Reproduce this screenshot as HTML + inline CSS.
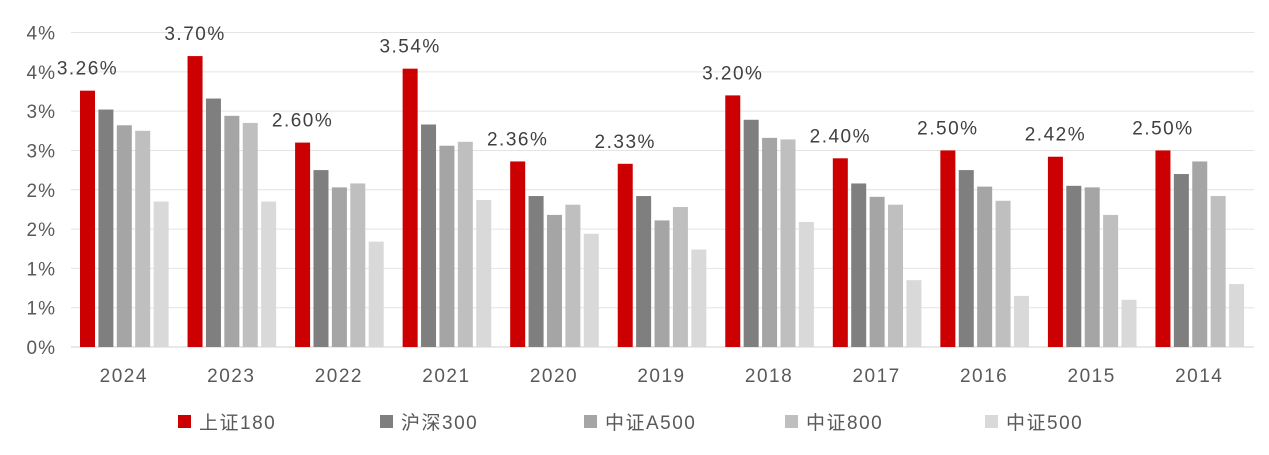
<!DOCTYPE html>
<html><head><meta charset="utf-8">
<style>
html,body{margin:0;padding:0;background:#fff;}
svg{display:block;font-family:"Liberation Sans","Noto Sans CJK SC",sans-serif;}
</style></head>
<body>
<svg id="chart" width="1269" height="455" viewBox="0 0 1269 455" xmlns="http://www.w3.org/2000/svg">
<g id="grid"></g>
<g id="yaxis"></g>
<g id="bars"></g>
<g id="labels"></g>
<g id="xaxis"></g>
<g id="legend"></g>
</svg>
<script>
const categories = ["2024","2023","2022","2021","2020","2019","2018","2017","2016","2015","2014"];
const seriesNames = ["上证180","沪深300","中证A500","中证800","中证500"];
const sz180 = [3.26,3.70,2.60,3.54,2.36,2.33,3.20,2.40,2.50,2.42,2.50];
const hs300 = [3.02,3.16,2.25,2.83,1.92,1.92,2.89,2.08,2.25,2.05,2.20];
const zzA500 = [2.82,2.94,2.03,2.56,1.68,1.61,2.66,1.91,2.04,2.03,2.36];
const zz800 = [2.75,2.85,2.08,2.61,1.81,1.78,2.64,1.81,1.86,1.68,1.92];
const zz500 = [1.85,1.85,1.34,1.87,1.44,1.24,1.59,0.85,0.65,0.60,0.80];
const labelValues = ["3.26%","3.70%","2.60%","3.54%","2.36%","2.33%","3.20%","2.40%","2.50%","2.42%","2.50%"];
const yTicks = [0,0.5,1,1.5,2,2.5,3,3.5,4];
const yTickLabels = ["0%","1%","1%","2%","2%","3%","3%","4%","4%"];

const colors = ["#cc0000","#7f7f7f","#a5a5a5","#bfbfbf","#d9d9d9"];
const series = [sz180,hs300,zzA500,zz800,zz500];
const NS="http://www.w3.org/2000/svg";
const plotL=71, plotR=1254, y0=347, yTop=32.5, yMax=4;
const y = v => y0 - (v/yMax)*(y0-yTop);
const groupW = (plotR-plotL)/categories.length;
const x = i => plotL + i*groupW;
const barW=15, pitch=18.4, barOff=9;
function mk(tag, attrs, parent){const e=document.createElementNS(NS,tag);for(const k in attrs)e.setAttribute(k,attrs[k]);parent.appendChild(e);return e;}

const grid=document.getElementById('grid'), yaxis=document.getElementById('yaxis');
yTicks.forEach((t,i)=>{
  const l=mk('line',{x1:plotL,x2:plotR,y1:y(t),y2:y(t),stroke:i===0?'#d0d0d0':'#e4e4e4','stroke-width':1},grid);
  
  
  const tx=mk('text',{x:56,y:y(t)+7,'text-anchor':'end','font-size':19,'letter-spacing':1,fill:'#595959'},yaxis);
  tx.textContent=yTickLabels[i];
  
  
});

const bars=document.getElementById('bars'), labels=document.getElementById('labels'), xaxis=document.getElementById('xaxis');
categories.forEach((c,i)=>{
  series.forEach((s,k)=>{
    const bx=x(i)+barOff+k*pitch;
    const r=mk('rect',{x:bx,y:y(s[i]),width:barW,height:y0-y(s[i]),fill:colors[k]},bars);
    
    
  });
  const lx=x(i)+barOff+barW/2;
  const t=mk('text',{x:lx,y:y(sz180[i])-16,'text-anchor':'middle','font-size':19,'letter-spacing':1.5,fill:'#404040'},labels);
  t.textContent=labelValues[i];
  
  
  const xt=mk('text',{x:x(i)+groupW/2-1,y:382,'text-anchor':'middle','font-size':19,'letter-spacing':1.5,fill:'#595959'},xaxis);
  xt.textContent=c;
  
  
});

const legend=document.getElementById('legend');
const legX=[178,380,584,785,985];
seriesNames.forEach((n,k)=>{
  const g=mk('g',{},legend);
  
  
  mk('rect',{x:legX[k],y:415,width:13,height:13,fill:colors[k]},g);
  const t=mk('text',{x:legX[k]+21,y:429,'font-size':19,'letter-spacing':1.5,fill:'#595959'},g);
  t.textContent=n;
});
</script>
</body></html>
